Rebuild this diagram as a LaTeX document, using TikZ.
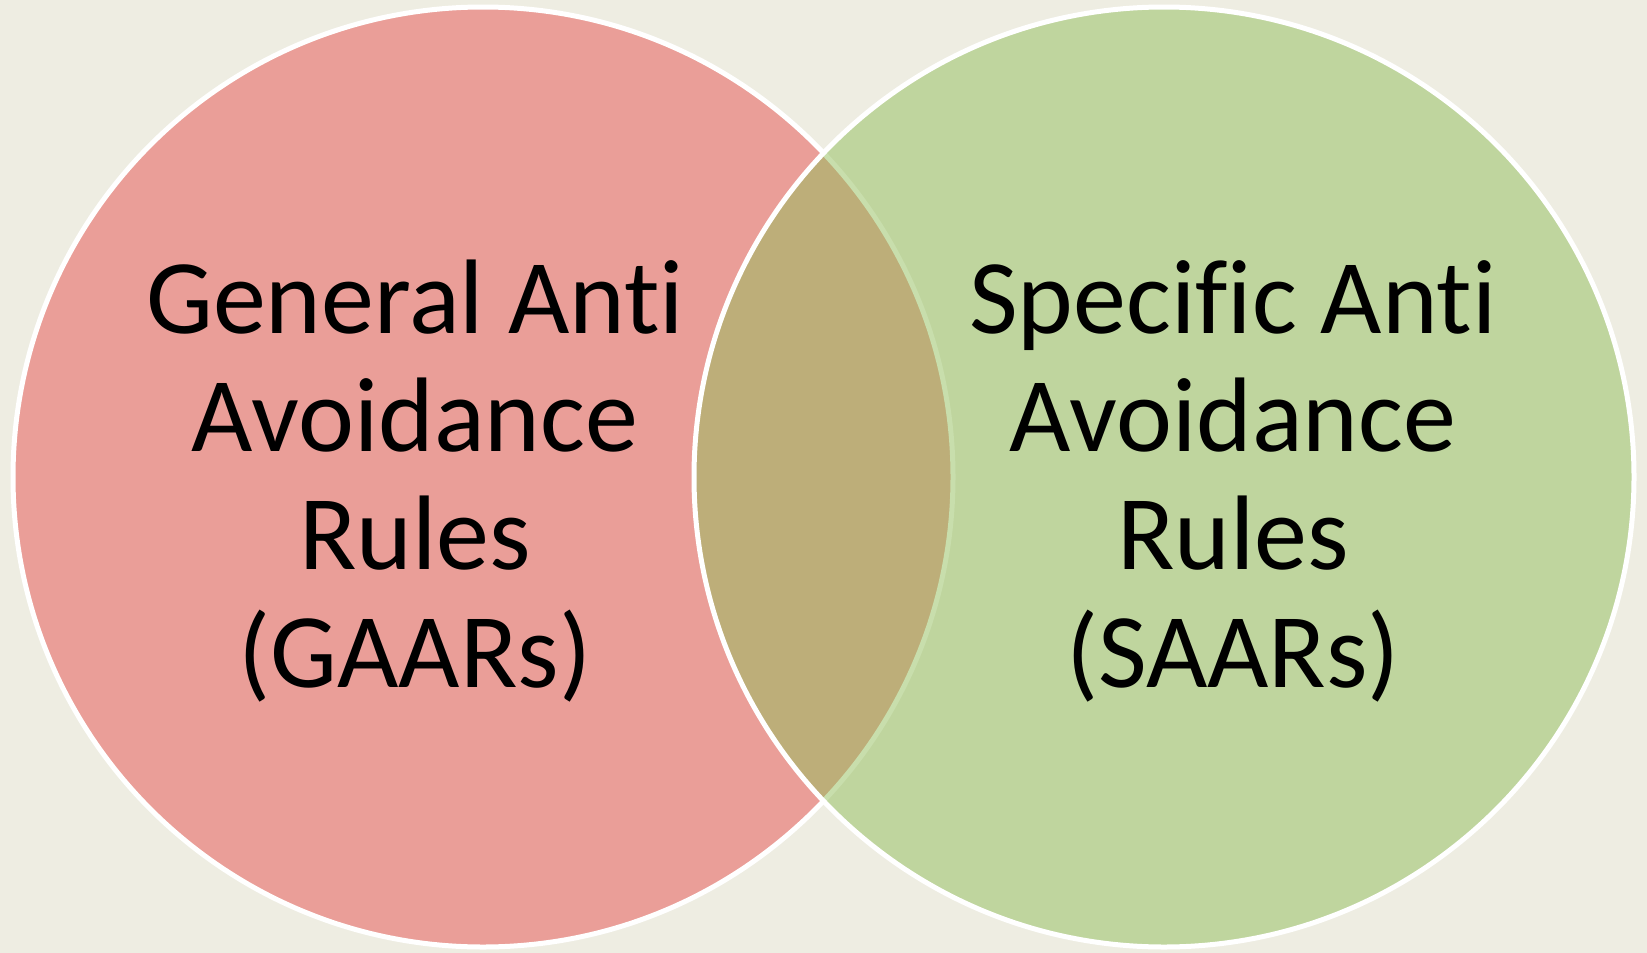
\documentclass[tikz,border=0pt]{standalone}
\usepackage{fontspec}
\setmainfont[RawFeature=-liga]{Carlito}
\definecolor{paper}{RGB}{238,237,226}
\definecolor{gaarpink}{RGB}{234,158,152}
\definecolor{saargreen}{RGB}{146,190,91}
\tikzset{
  venn/.style={draw=white, line width=5pt},
  vennlabel/.style={inner sep=0pt, align=center, anchor=base, text=black,
    font=\fontsize{106pt}{118pt}\selectfont}
}
\begin{document}
\begin{tikzpicture}[x=1pt, y=-1pt]
  % page and background
  \fill[paper] (0,0) rectangle (1647,953);
  \useasboundingbox (0,0) rectangle (1647,953);
  % the two sets; the second one is half transparent so the overlap mixes
  \path[venn, fill=gaarpink] (483,477) circle[radius=470];
  \path[venn, fill=saargreen, fill opacity=0.5] (1164,477) circle[radius=470];
  % labels (anchored on the baseline of their last line)
  \node[vennlabel] (gaar) at (415,687)
    {General Anti\\Avoidance\\Rules\\(GAARs)};
  \node[vennlabel] (saar) at (1233,687)
    {Specific Anti\\Avoidance\\Rules\\(SAARs)};
\end{tikzpicture}
\end{document}
